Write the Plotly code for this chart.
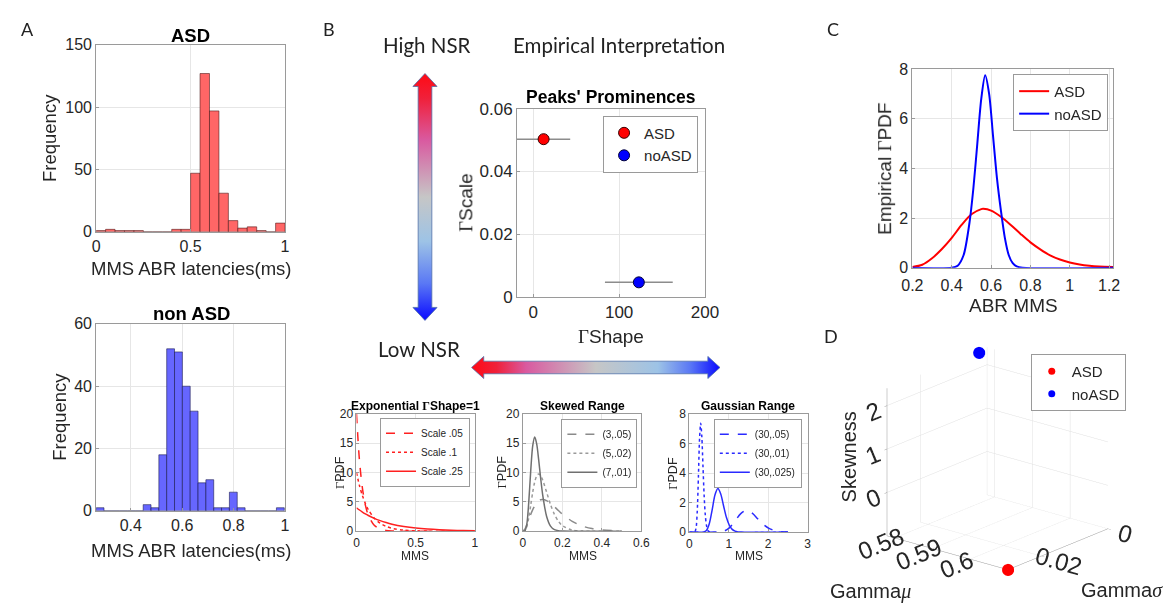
import base64
import plotly.graph_objects as go

W, H = 1175, 610
ARIAL = "Liberation Sans"
SERIF = "Liberation Serif"
LATO = "Lato"
TXT = "#262626"

# ---------------- data ----------------
# Panel A: histograms
asd_bin_left = [0.00, 0.05, 0.10, 0.15, 0.20, 0.25, 0.30, 0.35, 0.40, 0.45,
                0.50, 0.55, 0.60, 0.65, 0.70, 0.75, 0.80, 0.85, 0.90, 0.95]
asd_bin_width = 0.05
asd_counts = [1, 2, 1, 1, 1, 0, 0, 0, 2, 2, 47, 127, 97, 31, 9, 3, 4, 1, 0, 7]

nonasd_bin_left = [0.2650, 0.2955, 0.3260, 0.3565, 0.3870, 0.4175, 0.4480, 0.4785,
                   0.5090, 0.5395, 0.5700, 0.6005, 0.6310, 0.6615, 0.6920, 0.7225,
                   0.7530, 0.7835, 0.8140, 0.8445, 0.8750, 0.9055, 0.9360, 0.9665]
nonasd_bin_width = 0.0305
nonasd_counts = [1, 0, 0, 0, 0, 0, 2, 1, 18, 52, 51, 40, 32, 9, 10, 1, 1, 6, 1, 0, 0, 0, 0, 1]

# Panel B: peaks' prominences
groups = ["ASD", "noASD"]
group_colors = ["#ff0000", "#0000ff"]
peak_shape = [12, 123]
peak_shape_err = [31, 39.5]
peak_scale = [0.0503, 0.0046]

# Panel B bottom: example gamma PDFs
exp_x = [0, 0.025, 0.05, 0.075, 0.1, 0.15, 0.2, 0.25, 0.3, 0.4, 0.5, 0.6, 0.7, 0.8, 0.9, 1.0]
exp_scale05 = [20, 12.1, 7.36, 4.46, 2.71, 1.0, 0.37, 0.13, 0.05, 0.01, 0, 0, 0, 0, 0, 0]
exp_scale10 = [10, 7.79, 6.07, 4.72, 3.68, 2.23, 1.35, 0.82, 0.50, 0.18, 0.07, 0.02, 0.01, 0, 0, 0]
exp_scale25 = [4, 3.62, 3.27, 2.96, 2.68, 2.20, 1.80, 1.47, 1.20, 0.81, 0.54, 0.36, 0.24, 0.16, 0.11, 0.07]
exp_names = ["Scale .05", "Scale .1", "Scale .25"]

skew_x = [0, 0.01, 0.02, 0.03, 0.04, 0.05, 0.06, 0.07, 0.08, 0.09, 0.10, 0.12, 0.14,
          0.16, 0.18, 0.20, 0.25, 0.30, 0.35, 0.40, 0.45, 0.50]
skew_3_05 = [0, 0.33, 1.07, 1.98, 2.88, 3.68, 4.34, 4.83, 5.17, 5.36, 5.41, 5.22, 4.77,
             4.17, 3.54, 2.93, 1.68, 0.89, 0.45, 0.21, 0.10, 0.045]
skew_5_02 = [0, 0.08, 0.77, 2.35, 4.51, 6.68, 8.40, 9.44, 9.77, 9.49, 8.77, 6.69, 4.56,
             2.86, 1.69, 0.95, 0.19, 0.03, 0.005, 0, 0, 0]
skew_7_01 = [0, 0.05, 1.20, 5.04, 10.42, 14.62, 16.06, 14.90, 12.20, 9.10, 6.30, 2.55, 0.87,
             0.26, 0.07, 0.02, 0, 0, 0, 0, 0, 0]
skew_names = ["(3,.05)", "(5,.02)", "(7,.01)"]

gauss_05_x = [0, 0.725, 0.87, 1.015, 1.16, 1.305, 1.45, 1.595, 1.74, 1.885, 2.03, 2.175, 2.32, 2.465, 2.5]
gauss_05_y = [0, 0.01, 0.06, 0.29, 0.76, 1.26, 1.48, 1.29, 0.89, 0.50, 0.24, 0.10, 0.03, 0.01, 0]
gauss_01_x = [0, 0.12, 0.145, 0.174, 0.203, 0.232, 0.261, 0.29, 0.319, 0.348, 0.377, 0.406,
              0.435, 0.464, 0.493, 0.55, 2.5]
gauss_01_y = [0, 0, 0.03, 0.30, 1.42, 3.77, 6.32, 7.38, 6.44, 4.42, 2.48, 1.17, 0.48, 0.17, 0.06, 0, 0]
gauss_025_x = [0, 0.30, 0.3625, 0.435, 0.5075, 0.58, 0.6525, 0.725, 0.7975, 0.87, 0.9425,
               1.015, 1.0875, 1.16, 1.2325, 1.305, 1.40, 2.5]
gauss_025_y = [0, 0, 0.01, 0.12, 0.57, 1.51, 2.53, 2.95, 2.58, 1.77, 0.99, 0.47, 0.19, 0.07, 0.02, 0.01, 0, 0]
gauss_names = ["(30,.05)", "(30,.01)", "(30,.025)"]

# Panel C: empirical gamma PDFs
asd_pdf_x = [0.20, 0.25, 0.30, 0.35, 0.40, 0.45, 0.50, 0.55, 0.56, 0.60, 0.65, 0.70, 0.75,
             0.80, 0.85, 0.90, 0.95, 1.00, 1.05, 1.10, 1.15, 1.22]
asd_pdf_y = [0.03, 0.12, 0.38, 0.75, 1.20, 1.72, 2.15, 2.36, 2.37, 2.30, 2.05, 1.72, 1.36,
             1.02, 0.74, 0.50, 0.33, 0.21, 0.13, 0.08, 0.05, 0.03]
nonasd_pdf_x = [0.20, 0.40, 0.43, 0.46, 0.49, 0.51, 0.53, 0.55, 0.57, 0.59, 0.61, 0.63,
                0.65, 0.67, 0.69, 0.71, 0.73, 0.76, 1.22]
nonasd_pdf_y = [0, 0, 0.08, 0.50, 1.80, 3.20, 5.00, 6.80, 7.75, 7.00, 5.30, 3.60,
                2.30, 1.20, 0.50, 0.18, 0.05, 0, 0]

# Panel D: 3-D summary
d_mu = [0.610, 0.578]
d_sigma = [0.030, 0.0024]
d_skew = [-1.0, 2.35]


# ---------------- helpers ----------------
def fx(x):
    return x / W


def fy(y):
    return 1 - y / H


annotations = []


def txt(s, x, y, size, family=ARIAL, bold=False, angle=0, color=TXT):
    annotations.append(dict(
        text=("<b>" + s + "</b>") if bold else s, x=fx(x), y=fy(y),
        xref="paper", yref="paper", showarrow=False, textangle=angle,
        font=dict(family=family, size=size, color=color),
        xanchor="center", yanchor="middle"))


def gam(s):
    return '<span style="font-family:%s">Γ</span>%s' % (SERIF, s)


layout_axes = {}


def axes(n, x0, x1, y0, y1, xr, yr, xt, yt, fs, xstand=0):
    common = dict(showgrid=True, gridcolor="#e6e6e6", gridwidth=1, showline=True,
                  mirror=True, linecolor="#9a9a9a", linewidth=1, ticks="inside",
                  ticklen=3, tickcolor="#9a9a9a", zeroline=False,
                  tickfont=dict(family=ARIAL, size=fs, color=TXT))
    sx = "" if n == 1 else str(n)
    layout_axes["xaxis" + sx] = dict(common, domain=[fx(x0), fx(x1)], range=xr,
                                      tickvals=xt, anchor="y" + sx, ticklabelstandoff=xstand)
    layout_axes["yaxis" + sx] = dict(common, domain=[fy(y1), fy(y0)], range=yr,
                                      tickvals=yt, anchor="x" + sx)
    return "x" + sx, "y" + sx


def arrow_svg(w, h, vertical, stops):
    if vertical:
        c, hl, sw, hw = w / 2, 14, 7, w / 2 - 0.6
        pts = [(c, 0.6), (c + hw, hl), (c + sw, hl), (c + sw, h - hl), (c + hw, h - hl),
               (c, h - 0.6), (c - hw, h - hl), (c - sw, h - hl), (c - sw, hl), (c - hw, hl)]
        x2, y2 = 0, 1
    else:
        c, hl, sw, hw = h / 2, 13, 6.5, h / 2 - 0.6
        pts = [(0.6, c), (hl, c - hw), (hl, c - sw), (w - hl, c - sw), (w - hl, c - hw),
               (w - 0.6, c), (w - hl, c + hw), (w - hl, c + sw), (hl, c + sw), (hl, c + hw)]
        x2, y2 = 1, 0
    st = "".join('<stop offset="%g" stop-color="%s"/>' % (o, col) for o, col in stops)
    poly = " ".join("%.2f,%.2f" % p for p in pts)
    svg = ('<svg xmlns="http://www.w3.org/2000/svg" width="%d" height="%d" viewBox="0 0 %d %d">'
           '<defs><linearGradient id="g" x1="0" y1="0" x2="%d" y2="%d">%s</linearGradient></defs>'
           '<polygon points="%s" fill="url(#g)" stroke="#4f6fa8" stroke-width="0.8"/></svg>'
           % (w, h, w, h, x2, y2, st, poly))
    return "data:image/svg+xml;base64," + base64.b64encode(svg.encode()).decode()


fig = go.Figure()

# ---------------- Panel A ----------------
xa, ya = axes(1, 87, 280, 37, 230, [0, 1], [0, 150], [0, 0.5, 1], [0, 50, 100, 150], 16)
fig.add_trace(go.Bar(x=[b + asd_bin_width / 2 for b in asd_bin_left], y=asd_counts,
                     width=asd_bin_width, xaxis=xa, yaxis=ya, showlegend=False,
                     marker=dict(color="rgb(255,102,102)", line=dict(color="rgba(70,20,20,0.8)", width=0.7))))
xa, ya = axes(2, 87, 280, 325, 518, [0.265, 1.0], [0, 60], [0.4, 0.6, 0.8, 1], [0, 20, 40, 60], 16)
fig.add_trace(go.Bar(x=[b + nonasd_bin_width / 2 for b in nonasd_bin_left], y=nonasd_counts,
                     width=nonasd_bin_width, xaxis=xa, yaxis=ya, showlegend=False,
                     marker=dict(color="rgb(102,102,255)", line=dict(color="rgba(20,20,70,0.8)", width=0.7))))

# ---------------- Panel B scatter ----------------
xa, ya = axes(3, 517, 709, 103, 297, [-19, 200], [0, 0.06], [0, 100, 200], [0, 0.02, 0.04, 0.06], 17)
for i in range(2):
    fig.add_trace(go.Scatter(
        x=[peak_shape[i]], y=[peak_scale[i]], mode="markers", name=groups[i],
        xaxis=xa, yaxis=ya, legend="legend",
        error_x=dict(type="data", array=[peak_shape_err[i]], color="#8c8c8c", thickness=1.5, width=0),
        marker=dict(size=11, color=group_colors[i], line=dict(color="#3a0000" if i == 0 else "#00003a", width=1))))

# ---------------- Panel B small plots ----------------
xa, ya = axes(4, 353, 474, 418, 539, [0, 1], [0, 20], [0, 0.5, 1], [0, 5, 10, 15, 20], 12)
for yv, nm, ds in zip([exp_scale05, exp_scale10, exp_scale25], exp_names, ["dash", "dot", "solid"]):
    fig.add_trace(go.Scatter(x=exp_x, y=yv, mode="lines", name=nm, xaxis=xa, yaxis=ya,
                             legend="legend4", line=dict(color="#ff2020", width=1.5, dash=ds,
                                                        shape="spline", smoothing=0.8)))
xa, ya = axes(5, 523, 644, 418, 539, [0, 0.6], [0, 20], [0, 0.2, 0.4, 0.6], [0, 5, 10, 15, 20], 12)
for yv, nm, ds, col in zip([skew_3_05, skew_5_02, skew_7_01], skew_names, ["dash", "dot", "solid"],
                           ["#8a8a8a", "#9a9a9a", "#707070"]):
    fig.add_trace(go.Scatter(x=skew_x, y=yv, mode="lines", name=nm, xaxis=xa, yaxis=ya,
                             legend="legend5", line=dict(color=col, width=1.5, dash=ds,
                                                        shape="spline", smoothing=0.8)))
xa, ya = axes(6, 693, 814, 418, 540, [0, 3], [0, 8], [0, 1, 2, 3], [0, 2, 4, 6, 8], 12)
for xv, yv, nm, ds in zip([gauss_05_x, gauss_01_x, gauss_025_x], [gauss_05_y, gauss_01_y, gauss_025_y],
                          gauss_names, ["dash", "dot", "solid"]):
    fig.add_trace(go.Scatter(x=xv, y=yv, mode="lines", name=nm, xaxis=xa, yaxis=ya,
                             legend="legend6", line=dict(color="#2a2aff", width=1.5, dash=ds,
                                                        shape="spline", smoothing=0.8)))

# ---------------- Panel C ----------------
xa, ya = axes(7, 921, 1126, 62, 267, [0.2, 1.22], [0, 8], [0.2, 0.4, 0.6, 0.8, 1.0, 1.2],
              [0, 2, 4, 6, 8], 16, xstand=3)
fig.add_trace(go.Scatter(x=asd_pdf_x, y=asd_pdf_y, mode="lines", name="ASD", xaxis=xa, yaxis=ya,
                         legend="legend2", line=dict(color="#ff0000", width=2, shape="spline", smoothing=0.8)))
fig.add_trace(go.Scatter(x=nonasd_pdf_x, y=nonasd_pdf_y, mode="lines", name="noASD", xaxis=xa, yaxis=ya,
                         legend="legend2", line=dict(color="#0000ff", width=2, shape="spline", smoothing=0.8)))

# ---------------- Panel D (3-D) ----------------
for i in range(2):
    fig.add_trace(go.Scatter3d(x=[d_sigma[i]], y=[d_mu[i]], z=[d_skew[i]], mode="markers",
                               name=groups[i], legend="legend3", scene="scene",
                               marker=dict(size=7, color=group_colors[i], line=dict(width=0))))

ax3 = dict(title=dict(text=""), showbackground=False, gridcolor="#e0e0e0", gridwidth=1,
           showline=True, linecolor="#9a9a9a", linewidth=1, zeroline=False, showspikes=False,
           ticks="outside", ticklen=4, tickcolor="#9a9a9a",
           tickfont=dict(family=ARIAL, size=17, color=TXT))
scene = dict(
    domain=dict(x=[fx(855), fx(1160)], y=[fy(592), fy(335)]),
    xaxis=dict(ax3, range=[0, 0.03], tickvals=[0, 0.02]),
    yaxis=dict(ax3, range=[0.578, 0.61], tickvals=[0.58, 0.59, 0.6]),
    zaxis=dict(ax3, range=[-1, 2.4], tickvals=[0, 1, 2]),
    aspectmode="manual", aspectratio=dict(x=1.26, y=1.26, z=1.26), bgcolor="white",
    camera=dict(eye=dict(x=1.39, y=1.15, z=0.65), center=dict(x=0, y=0, z=0),
                up=dict(x=0, y=0, z=1), projection=dict(type="orthographic")),
)

# ---------------- legends ----------------
def leg(xr, yt, fs):
    return dict(x=fx(xr), y=fy(yt), xanchor="right", yanchor="top", bgcolor="white",
                bordercolor="#9a9a9a", borderwidth=1, tracegroupgap=0, itemwidth=30,
                font=dict(family=ARIAL, size=fs, color=TXT))


# ---------------- texts ----------------
txt("A", 17, 21, 18, LATO, color="#222")
txt("B", 325, 21, 18, LATO, color="#222")
txt("C", 840, 21, 18, LATO, color="#222")
txt("D", 838, 338, 18, LATO, color="#222")
txt("High NSR", 425, 37, 20.5, LATO, color="#222")
txt("Empirical Interpretation", 621, 37, 20.5, LATO, color="#222")
txt("Low NSR", 417, 351, 20.5, LATO, color="#222")

txt("ASD", 183.5, 27.5, 18.5, bold=True, color="#000")
txt("Frequency", 40, 133, 18.5, angle=-90)
txt("MMS ABR latencies(ms)", 184, 268, 18.5)
txt("non ASD", 184, 314, 18.5, bold=True, color="#000")
txt("Frequency", 50, 421, 18.5, angle=-90)
txt("MMS ABR latencies(ms)", 184, 559, 18.5)

txt("Peaks' Prominences", 613, 91, 17.5, bold=True, color="#000")
txt(gam("Scale"), 465, 200, 19, angle=-90)
txt(gam("Shape"), 613, 338, 19)

txt("Empirical " + gam("PDF"), 893, 165, 19, angle=-90)
txt("ABR MMS", 1024, 306, 19)

txt("Skewness", 856, 462, 20, angle=-90)
txt('Gamma<span style="font-family:%s"><i>μ</i></span>' % SERIF, 878, 601, 20)
txt('Gamma<span style="font-family:%s"><i>σ</i></span>' % SERIF, 1135, 600, 20)

txt("Exponential " + gam("Shape=1"), 413, 410, 12, bold=True, color="#000")
txt(gam("PDF"), 336, 478, 12.5, angle=-90)
txt("MMS", 413, 565, 12)
txt("Skewed Range", 584, 410, 12, bold=True, color="#000")
txt(gam("PDF"), 502, 478, 12.5, angle=-90)
txt("MMS", 584, 565, 12)
txt("Gaussian Range", 753, 410, 12, bold=True, color="#000")
txt(gam("PDF"), 676, 479, 12.5, angle=-90)
txt("MMS", 754, 565, 12)

# ---------------- arrows ----------------
stops_v = [(0, "#ff0a14"), (0.1, "#f0203a"), (0.27, "#d95aa0"), (0.5, "#c6c6c6"),
           (0.68, "#9dc3e6"), (0.85, "#5a78f5"), (1, "#0a0aff")]
stops_h = [(0, "#ff0a14"), (0.1, "#f0203a"), (0.22, "#d95aa0"), (0.5, "#c6c6c6"),
           (0.75, "#9dc3e6"), (0.88, "#5a78f5"), (1, "#0a0aff")]
images = [
    dict(source=arrow_svg(26, 256, True, stops_v), xref="paper", yref="paper",
         x=fx(410), y=fy(66), sizex=26 / W, sizey=256 / H, xanchor="left", yanchor="top",
         sizing="stretch", layer="above"),
    dict(source=arrow_svg(255, 24, False, stops_h), xref="paper", yref="paper",
         x=fx(470), y=fy(358), sizex=255 / W, sizey=24 / H, xanchor="left", yanchor="top",
         sizing="stretch", layer="above"),
]

fig.update_layout(
    width=W, height=H, margin=dict(l=0, r=0, t=0, b=0),
    paper_bgcolor="white", plot_bgcolor="white",
    font=dict(family=ARIAL, color=TXT),
    annotations=annotations, images=images, scene=scene,
    legend=leg(702, 110, 15), legend2=leg(1121, 67, 15), legend3=leg(1139, 356, 15),
    legend4=leg(469, 422, 10), legend5=leg(640, 423, 10), legend6=leg(808, 423, 10),
    **layout_axes,
)

fig.write_html("out.html")
